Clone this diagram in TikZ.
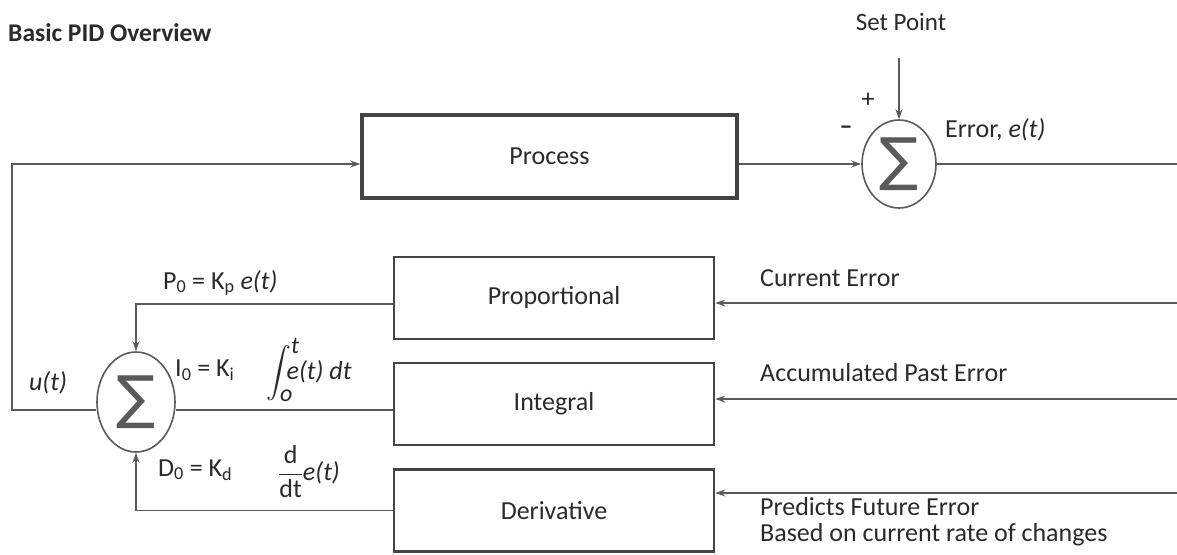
\documentclass[tikz,border=0pt]{standalone}
\usepackage{amsmath}
\usepackage{fontspec}
\setmainfont{Carlito}
\newfontfamily\symfont{DejaVu Sans}
\usetikzlibrary{arrows.meta,shapes.geometric}
\definecolor{ink}{HTML}{2A2A2A}
\definecolor{wirec}{HTML}{5A5A5A}
\definecolor{boxc}{HTML}{444444}

\begin{document}
\begin{tikzpicture}[
  x=1pt, y=-1pt,
  >={Stealth[length=10pt,width=7pt]},
  lab/.style={font=\fontsize{26}{27}\selectfont, text=ink, inner sep=0pt},
  blk/.style={draw=boxc, line width=2.6pt, minimum width=320pt, minimum height=82pt,
              font=\fontsize{26}{28}\selectfont, text=ink},
  summer/.style={ellipse, draw=wirec, line width=1.6pt, inner sep=0pt, text=wirec,
                 font=\symfont\fontsize{58}{58}\selectfont},
  wire/.style={draw=wirec, line width=1.6pt},
]
\useasboundingbox (0,0) rectangle (1177,554);

% ------------------------------------------------------------------
% plant and set point comparison
% ------------------------------------------------------------------
\node[lab, anchor=west, font=\bfseries\fontsize{25.5}{27}\selectfont] (title) at (8,33)
     {Basic PID Overview};

\node[blk, line width=3.5pt, minimum width=375pt, minimum height=83pt] (proc)
     at (549.5,156.5) {Process};
\node[summer, minimum width=74pt, minimum height=88pt] (sumT) at (899,164) {∑};

\node[lab, font=\fontsize{25}{27}\selectfont] (sp) at (901,22) {Set Point};
\node[lab] (plus) at (868,100) {+};
\node[lab] (minus) at (846,130) {\textbf{\textendash}};
\node[lab, anchor=west] (err) at (945,130) {Error, \textit{e(t)}};

\coordinate (spA) at (899,58);
\coordinate (eR)  at (1177,164);
\draw[wire,->] (spA) -- (sumT.north);
\draw[wire,->] (proc.east |- sumT.west) -- (sumT.west);
\draw[wire] (sumT.east) -- (eR);

% ------------------------------------------------------------------
% the three terms
% ------------------------------------------------------------------
\node[blk] (prop)  at (554,298)   {Proportional};
\node[blk] (integ) at (554,404)   {Integral};
\node[blk] (deriv) at (554,510.5) {Derivative};

\coordinate (rP) at (1177,303);
\coordinate (rI) at (1177,399);
\coordinate (rD) at (1177,493);
\draw[wire,->] (rP) -- (rP -| prop.east);
\draw[wire,->] (rI) -- (rI -| integ.east);
\draw[wire,->] (rD) -- (rD -| deriv.east);

\node[lab, anchor=west] (cur) at (760,278) {Current Error};
\node[lab, anchor=west] (acc) at (760,373) {Accumulated Past Error};
\node[lab, anchor=north west, align=left, font=\fontsize{26}{26}\selectfont] (fut)
     at (760,497) {Predicts Future Error\\Based on current rate of changes};

% ------------------------------------------------------------------
% controller sum and output u(t)
% ------------------------------------------------------------------
\node[summer, minimum width=78pt, minimum height=100pt] (sumL) at (136,402) {∑};

\coordinate (pOut) at ([yshift=-6pt]prop.west);
\coordinate (iOut) at ([yshift=-6pt]integ.west);
\coordinate (uL)   at (12,164);
\draw[wire,->] (pOut) -| (sumL.north);
\draw[wire] (iOut) -- (iOut -| sumL.east);
\draw[wire,->] (deriv.west) -| (sumL.south);
\draw[wire,->] (iOut -| sumL.west) -| (uL) -- (uL -| proc.west);

\node[lab] (ut) at (48,383) {\textit{u(t)}};
\node[lab, anchor=west] (pEq) at (163,283)
     {P\textsubscript{0} = K\textsubscript{p} \textit{e(t)}};
\node[lab, anchor=west] (iEq) at (175,370) {I\textsubscript{0} = K\textsubscript{i}};
\node[lab, anchor=west] (iInt) at (266,370)
     {\fontsize{30}{30}\selectfont$\displaystyle\int_{\text{\fontsize{24}{24}\selectfont\itshape o}}^{\text{\fontsize{24}{24}\selectfont\itshape t}}$%
      \hspace{-13pt}\fontsize{26}{27}\selectfont\textit{e(t) dt}};
\node[lab, anchor=west] (dEq) at (158,470) {D\textsubscript{0} = K\textsubscript{d}};
\node[lab, anchor=west] (dFr) at (278,472)
     {$\dfrac{\text{d}}{\text{dt}}$\textit{e(t)}};
\end{tikzpicture}
\end{document}
